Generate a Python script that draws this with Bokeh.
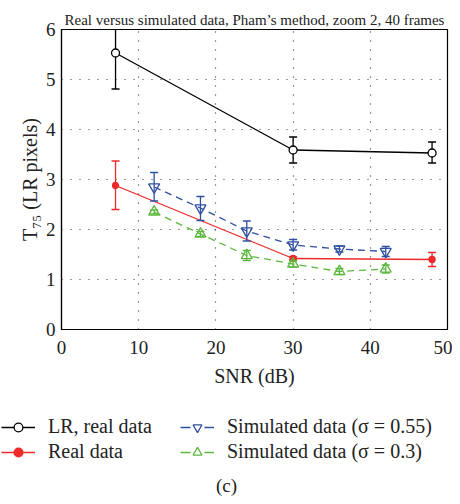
from bokeh.plotting import figure
from bokeh.models import Legend, LegendItem, Label, Range1d, FixedTicker
from bokeh.layouts import column
from bokeh.embed import file_html
from bokeh.resources import INLINE

# ---- data ----
snr_lr = [7, 30, 48]
t75_lr = [5.53, 3.59, 3.53]
t75_lr_lo = [4.81, 3.33, 3.33]
t75_lr_hi = [6.25, 3.85, 3.75]

snr_real = [7, 30, 48]
t75_real = [2.88, 1.42, 1.40]
t75_real_lo = [2.40, 1.39, 1.26]
t75_real_hi = [3.37, 1.45, 1.54]

snr_sim = [12, 18, 24, 30, 36, 42]
t75_sim055 = [2.85, 2.43, 1.97, 1.69, 1.61, 1.56]
t75_sim055_lo = [2.57, 2.18, 1.77, 1.59, 1.55, 1.46]
t75_sim055_hi = [3.14, 2.66, 2.17, 1.80, 1.67, 1.66]

t75_sim03 = [2.35, 1.91, 1.48, 1.31, 1.16, 1.21]
t75_sim03_lo = [2.31, 1.86, 1.38, 1.25, 1.10, 1.13]
t75_sim03_hi = [2.39, 1.96, 1.58, 1.37, 1.22, 1.29]

x_ticks = [0, 10, 20, 30, 40, 50]
y_ticks = [0, 1, 2, 3, 4, 5, 6]

labels = ["LR, real data", "Real data",
          "Simulated data (σ = 0.55)", "Simulated data (σ = 0.3)"]
title_text = "Real versus simulated data, Pham’s method, zoom 2, 40 frames"
panel_tag = "(c)"

FONT = "Liberation Serif"
BLACK = "#000000"
TXT = "#222222"
RED = "#ee2a2a"
BLUE = "#2f4f9f"
GREEN = "#5cb83c"

STYLES = [
    dict(color=BLACK, dash="solid", marker="circle", size=8, fill="white",
         ldash="solid", lsize=5),
    dict(color=RED, dash="solid", marker="circle", size=6, fill=RED,
         ldash="solid", lsize=5),
    dict(color=BLUE, dash="7 5", marker="inverted_triangle", size=11, fill=None,
         ldash="10 14", lsize=7),
    dict(color=GREEN, dash="7 5", marker="triangle", size=11, fill=None,
         ldash="10 14", lsize=7),
]
SERIES = [
    (snr_lr, t75_lr, t75_lr_lo, t75_lr_hi),
    (snr_real, t75_real, t75_real_lo, t75_real_hi),
    (snr_sim, t75_sim055, t75_sim055_lo, t75_sim055_hi),
    (snr_sim, t75_sim03, t75_sim03_lo, t75_sim03_hi),
]

p = figure(width=452, height=390, output_backend="svg",
           toolbar_location=None, x_range=Range1d(0, 50), y_range=Range1d(0, 6),
           min_border_left=61, min_border_right=5, min_border_top=29,
           min_border_bottom=61, frame_align=False)

p.title.text = title_text
p.title.align = "center"
p.title.text_font = FONT
p.title.text_font_size = "15px"
p.title.text_font_style = "normal"
p.title.text_color = TXT
p.title.standoff = 3

p.outline_line_color = BLACK
p.outline_line_width = 1.2
p.background_fill_color = "white"
p.border_fill_color = "white"

for ax in (p.xaxis[0], p.yaxis[0]):
    ax.major_label_text_font = FONT
    ax.major_label_text_font_size = "19px"
    ax.axis_label_text_font = FONT
    ax.axis_label_text_font_size = "20px"
    ax.axis_label_text_font_style = "normal"
    ax.major_tick_in = 0
    ax.major_tick_out = 0
    ax.minor_tick_in = 0
    ax.minor_tick_out = 0
    ax.axis_line_color = BLACK
    ax.axis_line_width = 1.2
    ax.major_label_text_color = TXT
    ax.axis_label_text_color = TXT

p.xaxis.ticker = FixedTicker(ticks=x_ticks)
p.yaxis.ticker = FixedTicker(ticks=y_ticks)
p.xaxis.axis_label = "SNR (dB)"
p.yaxis.axis_label = "T₇₅ (LR pixels)"
p.xaxis.major_label_standoff = 11
p.yaxis.major_label_standoff = 6
p.xaxis.axis_label_standoff = 8
p.yaxis.axis_label_standoff = 2

for g in (p.xgrid[0], p.ygrid[0]):
    g.grid_line_color = BLACK
    g.grid_line_dash = "1 8"
    g.grid_line_width = 1.2
    g.grid_line_alpha = 0.8


def series(fig, x, y, lo, hi, st, legend_only=False):
    c = st["color"]
    if not legend_only:
        fig.segment(x0=x, y0=lo, x1=x, y1=hi, line_color=c, line_width=1.3)
        fig.scatter(x=x, y=lo, marker="dash", size=8, line_color=c, line_width=1.3)
        fig.scatter(x=x, y=hi, marker="dash", size=8, line_color=c, line_width=1.3)
    ln = fig.line(x=x, y=y, line_color=c, line_width=1.3,
                  line_dash=st["ldash"] if legend_only else st["dash"])
    sc = fig.scatter(x=x, y=y, marker=st["marker"],
                     size=st["lsize"] if legend_only else st["size"],
                     line_color=c, line_width=1.3, fill_color=st["fill"])
    return [ln, sc]


for (sx, sy, slo, shi), st in zip(SERIES, STYLES):
    series(p, sx, sy, slo, shi, st)

# ---- legend panel below the plot (its data lies outside its ranges) ----
q = figure(width=452, height=106, output_backend="svg", toolbar_location=None,
           x_range=Range1d(-200, -199), y_range=Range1d(-200, -199),
           x_axis_type=None, y_axis_type=None,
           min_border_left=0, min_border_right=0, min_border_top=0,
           min_border_bottom=0, frame_align=False)
q.grid.visible = False
q.outline_line_color = None

items = []
for (sx, sy, slo, shi), st, lab in zip(SERIES, STYLES, labels):
    rs = series(q, sx, sy, slo, shi, st, legend_only=True)
    items.append(LegendItem(label=lab, renderers=rs))

common = dict(label_text_font=FONT, label_text_font_size="20px",
              label_text_color=TXT, glyph_width=34, glyph_height=22,
              label_height=22, spacing=2, padding=0, margin=0,
              label_standoff=13, border_line_color=None,
              background_fill_alpha=0)
q.add_layout(Legend(items=items[:2], location=(1, 33), **common))
q.add_layout(Legend(items=items[2:], location=(180, 33), **common))

q.add_layout(Label(x=226, y=1, x_units="screen", y_units="screen",
                   text=panel_tag, text_font=FONT, text_font_size="19px",
                   text_color=TXT, text_align="center", text_baseline="bottom"))

open("out.html", "w").write(file_html(column(p, q, spacing=0), INLINE))
